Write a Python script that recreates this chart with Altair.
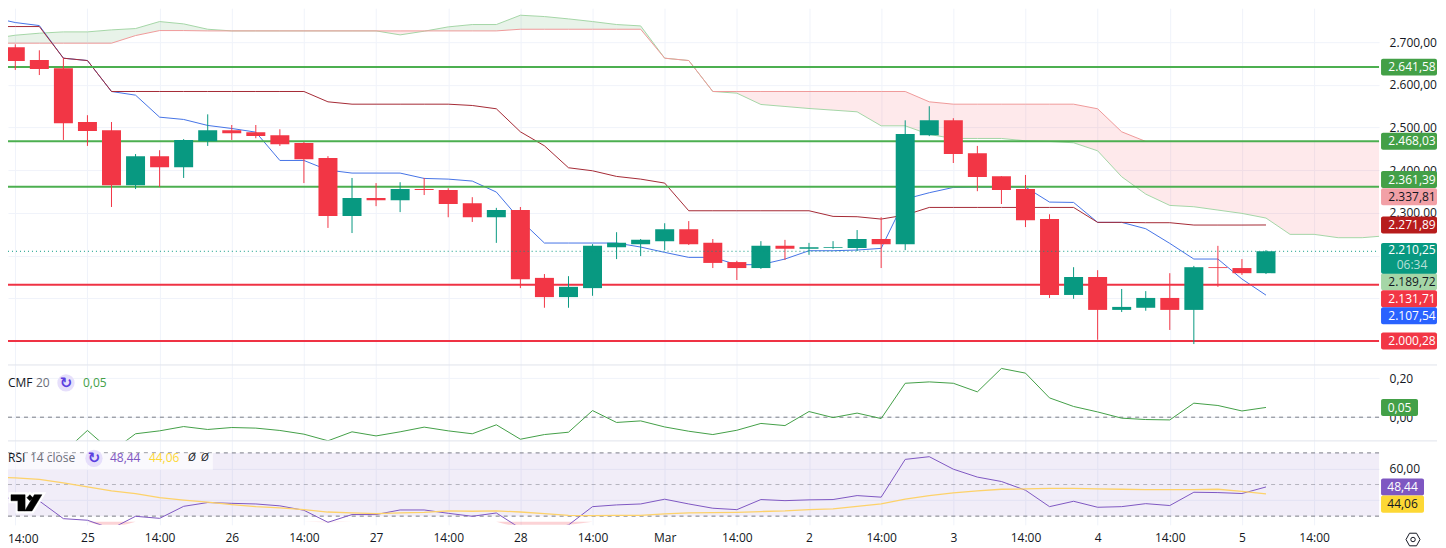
import json
import altair as alt
import pandas as pd

# ---- candles (4h bars)
opens  = [2688,2658,2639,2513,2494,2365,2433,2407,2468,2494,2489,2482,2464,2429,2293,2335,2330,2356,2354,2323,
          2290,2307,2148,2103,2124,2220,2227,2234,2262,2230,2185,2171,2223,2216,2218,2218,2239,2227,2482,2517,
          2440,2386,2356,2286,2108,2150,2073,2078,2101,2073,2173,2171,2159]
closes = [2656,2637,2510,2492,2365,2433,2407,2471,2494,2487,2480,2461,2426,2293,2335,2330,2356,2354,2321,2290,
          2307,2145,2103,2127,2223,2230,2237,2262,2227,2183,2171,2223,2216,2220,2220,2239,2227,2485,2517,2438,
          2384,2354,2283,2108,2150,2073,2080,2101,2073,2173,2171,2159,2210.25]
highs  = [2695,2681,2663,2529,2513,2438,2447,2473,2531,2506,2506,2496,2466,2433,2382,2370,2372,2382,2358,2337,
          2312,2314,2157,2152,2227,2255,2239,2276,2281,2239,2188,2234,2237,2230,2234,2260,2290,2517,2550,2522,
          2457,2386,2389,2297,2173,2166,2122,2117,2159,2176,2223,2192,2213]
lows   = [2635,2623,2471,2457,2314,2356,2361,2382,2457,2471,2475,2457,2370,2265,2253,2316,2302,2342,2290,2279,
          2230,2124,2078,2078,2106,2192,2199,2213,2225,2171,2143,2169,2190,2202,2216,2211,2171,2213,2480,2417,
          2351,2321,2267,2101,2099,2003,2068,2071,2026,1993,2127,2155,2157]

# ---- indicator lines, index -1 to 52
tenkan = [2758.4,2746,2738.9,2662.5,2657,2584.5,2575.9,2524.4,2519,2505,2497.9,2489.3,2423,2423,2400.4,2393.4,2393.4,2393.4,
          2380.9,2379.3,2374.7,2349,2283.4,2229.6,2229.6,2229.6,2229.6,2220.2,2207.7,2196,2196,2178.9,2178.9,2192.1,2211.6,
          2211.6,2213.2,2217.1,2332.5,2347.4,2359.8,2360.6,2360.6,2360.6,2325.5,2324.7,2278,2278,2263.1,2228.8,2192.1,2192.1,
          2145.3,2107.54]
kijun = [2736.6,2736.6,2736.6,2662.5,2657,2584.5,2584.5,2584.5,2584.5,2584.5,2584.5,2584.5,2584.5,2584.5,2560.3,2554.8,2554.8,
         2554.8,2554.8,2554.8,2551.7,2544,2490.1,2457.3,2405.9,2398.8,2385.6,2379.3,2370,2305.2,2305.2,2305.2,2305.2,2305.2,
         2305.2,2292,2291.2,2285.7,2295.1,2313,2313,2313,2313,2313,2313,2313,2278,2278,2277.2,2277.2,2271.7,2271.7,2271.7,2271.89]

# ---- cloud spans, index -1 to 57
span_a = [2707.7,2716.3,2721,2724.1,2724.1,2728.8,2731.9,2748.3,2742.8,2730.3,2726.4,2726.4,2726.4,2726.4,2726.4,2726.4,2726.4,
          2717.1,2725.7,2735.8,2741.3,2741.3,2763.1,2760,2754.5,2748.3,2741.3,2738.1,2662.5,2657,2584.5,2580.6,2554.1,2549.4,
          2544.7,2540.8,2536.9,2504.1,2504.1,2483.9,2474.5,2474.5,2474.5,2469,2467.5,2464.4,2445.6,2384.8,2344.2,2317.7,2314.6,
          2306.8,2299,2288.1,2249.9,2249.9,2242.1,2242.1,2246.7]
span_b = [2697.6,2697.6,2697.6,2697.6,2697.6,2697.6,2715.5,2727.2,2727.2,2726.4,2726.4,2726.4,2726.4,2726.4,2726.4,2726.4,2726.4,
          2726.4,2726.4,2726.4,2726.4,2726.4,2730.3,2730.3,2730.3,2730.3,2730.3,2730.3,2662.5,2657,2584.5,2584.5,2584.5,2584.5,
          2584.5,2584.5,2584.5,2584.5,2584.5,2560.3,2554.8,2554.8,2554.8,2554.8,2554.8,2554.8,2544,2490.1,2467.5,2467.5,2467.5,
          2467.5,2467.5,2467.5,2467.5,2467.5,2467.5,2467.5,2467.5]

# ---- oscillators, index 0 to 52 (CMF) and -1 to 52 (RSI, MA)
cmf = [-0.185,-0.202,-0.181,-0.068,-0.176,-0.085,-0.070,-0.048,-0.063,-0.053,-0.056,-0.068,-0.087,-0.121,-0.075,-0.096,-0.075,
       -0.051,-0.070,-0.085,-0.039,-0.113,-0.089,-0.077,0.034,-0.027,-0.019,-0.050,-0.072,-0.089,-0.067,-0.032,-0.043,0.029,
       -0.002,0.021,-0.007,0.174,0.181,0.174,0.130,0.250,0.226,0.099,0.055,0.027,-0.005,-0.012,-0.014,0.072,0.060,0.032,0.05]
rsi = [42.6,40.9,39.6,28.4,27.4,22.1,29.9,28.6,36.2,38.6,38.1,37.7,36.5,33.7,26.1,31,31,33.9,33.9,31.8,29.9,32,22.3,21,24.4,36,
       37.1,37.7,40.7,37.7,35,34.1,40.5,39.8,40.3,40.5,43,42,65.9,67.6,59.7,54.7,51.9,46.4,36,39.4,35.6,36,37.9,36.7,45.1,44.9,
       44.3,48.44]
rsi_ma = [54.9,54.2,53.2,51.1,48.5,46,44.3,41.7,40.1,38.8,37.3,36,35.2,34.1,32.6,32,31.6,32,32.4,33.3,33.1,33.3,32.6,31.6,30.5,
          30.3,30.5,30.5,31.4,32,32.2,32.4,32.9,33.3,34.1,34.6,36.2,37.7,40.7,43,44.7,46,47,47.2,47.5,47.5,47.2,47,46.8,46.8,
          46.8,47,45.6,44.06]

green_levels = [2641.58, 2468.03, 2361.39]
red_levels = [2131.71, 2000.28]
last_price = 2210.25
price_ticks = [2000, 2100, 2200, 2300, 2400, 2500, 2600, 2700]
time_labels = ["14:00","25","14:00","26","14:00","27","14:00","28","14:00","Mar","14:00","2","14:00","3","14:00","4","14:00","5","14:00"]

# ---- price tags: label, value, background, text colour
tags = [("2.641,58",2641.58,"#43a047","#ffffff"),("2.468,03",2468.03,"#43a047","#ffffff"),
        ("2.361,39",2361.39,"#43a047","#ffffff"),("2.337,81",2337.81,"#f2a0a6","#131722"),
        ("2.271,89",2271.89,"#b71c1c","#ffffff"),("2.189,72",2189.72,"#a5d6a7","#131722"),
        ("2.131,71",2131.71,"#f23645","#ffffff"),("2.107,54",2107.54,"#2962ff","#ffffff"),
        ("2.000,28",2000.28,"#f23645","#ffffff")]
# how far each tag is pushed off its level so the tags do not collide (layout, px)
tag_shift = [0,0,-7.2,0,0,21.7,13.9,20.7,0]

# ---- layout
FONT = "Open Sans"
W = 1372
H_PRICE, H_CMF, H_RSI = 357, 76, 84
PX = 0.4273            # px per price unit
RSI_PX = 1.575
CMF_PX = 195
TAG_H = 17
TAG_R = 1430           # the page has room for 1430 px of chart
GRID = "#f0f3fa"
TXT = "#131722"
UP, DOWN = "#089981", "#f23645"
one = pd.DataFrame({"a": [0]})

x_scale = alt.Scale(domain=[-0.303, 56.7], nice=False, zero=False, padding=0)
ticks = list(range(0, 55, 3))
x_grid = alt.X("i:Q", scale=x_scale, title=None,
               axis=alt.Axis(values=ticks, labels=False, ticks=False, domain=False, grid=True, gridColor=GRID, title=None))
# the first label would run off the left edge of the page, so it is drawn as its own flush text below
x_time = alt.X("i:Q", scale=x_scale, title=None,
               axis=alt.Axis(values=ticks, ticks=False, domain=False, grid=True, gridColor=GRID, title=None,
                             labelExpr="datum.value==0 ? '' : " + json.dumps(time_labels) + "[datum.value/3]",
                             labelFont=FONT, labelFontSize=12,
                             labelColor=TXT, labelPadding=8, labelOverlap=False, labelFlush=False))

DEC = "replace(replace(replace(format(datum.value,',.2f'),',','_'),'.',','),'_','.')"
def y_enc(field, domain, values, hidden=()):
    expr = DEC
    if hidden:
        expr = "||".join(f"datum.value=={h}" for h in hidden) + " ? '' : " + DEC
    return alt.Y(f"{field}:Q", scale=alt.Scale(domain=domain, nice=False, zero=False), title=None,
                 axis=alt.Axis(orient="right", values=values, grid=True, gridColor=GRID, ticks=False, domain=False, title=None,
                               labelExpr=expr, labelFont=FONT, labelFontSize=12, labelColor=TXT, labelPadding=10, labelOverlap=False))

P_DOM = [1944.1, 2779.6]
C_DOM = [-0.1215, 0.268]
R_DOM = [24.5, 77.6]
py = lambda f: y_enc(f, P_DOM, price_ticks, hidden=(2000, 2100, 2200))
cy = lambda f: y_enc(f, C_DOM, [0, 0.2])
ry = lambda f: y_enc(f, R_DOM, [40, 60], hidden=(40,))
py2 = lambda f: alt.Y2(f"{f}:Q")


def series(vals, start=-1):
    return pd.DataFrame({"i": list(range(start, start + len(vals))), "v": vals})


def txt(s, x, y, color=TXT, size=12, align="left", font=FONT, weight="normal", style="normal"):
    return alt.Chart(one).mark_text(text=s, align=align, baseline="middle", color=color, fontSize=size, font=font,
                                    fontWeight=weight, fontStyle=style, clip=False).encode(x=alt.value(x), y=alt.value(y))


def icon(x, y):
    return [alt.Chart(one).mark_circle(size=300, color="#e6dffb", opacity=1, clip=False).encode(x=alt.value(x), y=alt.value(y)),
            txt("\u21bb", x, y, color="#5b3fe0", size=15, align="center", font="DejaVu Sans", weight="bold")]


def hline(v, ychan, color, width=1, dash=None, opacity=1):
    kw = {"strokeDash": dash} if dash else {}
    return alt.Chart(pd.DataFrame({"v": [v]})).mark_rule(color=color, strokeWidth=width, opacity=opacity, **kw).encode(
        x=alt.value(0), x2=alt.value(W), y=ychan("v"))


# ---- price pane
cloud = pd.DataFrame({"i": list(range(-1, 58)), "a": span_a, "b": span_b})
cloud["top"] = cloud[["a", "b"]].max(axis=1)
candles = pd.DataFrame({"i": list(range(len(opens))), "o": opens, "c": closes, "h": highs, "l": lows})
candles["hi"] = candles[["o", "c"]].max(axis=1)
candles["lo"] = candles[["o", "c"]].min(axis=1)
candles["col"] = [UP if c >= o else DOWN for o, c in zip(opens, closes)]

tag_df = pd.DataFrame(tags, columns=["t", "v", "bg", "fg"])
tag_df["c"] = tag_df["v"] - pd.Series(tag_shift) / PX
tag_df["t1"] = tag_df["c"] + TAG_H / 2 / PX
tag_df["t2"] = tag_df["c"] - TAG_H / 2 / PX
live = pd.DataFrame({"t1": [last_price + 8.3 / PX], "t2": [last_price - 22.4 / PX]})
live_txt = pd.DataFrame({"t": ["2.210,25", "06:34"], "v": [last_price + 0.8 / PX, last_price - 13.4 / PX],
                         "fg": ["#ffffff", "#b8e0d8"]})

x0 = lambda: x_grid
price_layers = [
    alt.Chart(cloud).mark_area(color="#43a047", opacity=0.12, clip=True, interpolate="linear").encode(x=x0(), y=py("top"), y2=py2("b")),
    alt.Chart(cloud).mark_area(color="#f23645", opacity=0.11, clip=True, interpolate="linear").encode(x=x0(), y=py("top"), y2=py2("a")),
    alt.Chart(series(span_a)).mark_line(color="#a5d6a7", strokeWidth=1, clip=True).encode(x=x0(), y=py("v")),
    alt.Chart(series(span_b)).mark_line(color="#ef9a9a", strokeWidth=1, clip=True).encode(x=x0(), y=py("v")),
    alt.Chart(series(tenkan)).mark_line(color="#4573e6", strokeWidth=1, clip=True).encode(x=x0(), y=py("v")),
    alt.Chart(series(kijun)).mark_line(color="#a52a35", strokeWidth=1, clip=True).encode(x=x0(), y=py("v")),
]
price_layers += [hline(v, py, "#4caf50", 2) for v in green_levels]
price_layers += [hline(v, py, "#ef3344", 2) for v in red_levels]
price_layers += [
    alt.Chart(candles).mark_rule(strokeWidth=1, clip=True).encode(x=x0(), y=py("h"), y2=py2("l"), color=alt.Color("col:N", scale=None)),
    alt.Chart(candles).mark_bar(size=19, clip=True).encode(x=x0(), y=py("hi"), y2=py2("lo"), color=alt.Color("col:N", scale=None)),
    hline(last_price, py, UP, 1, [1, 3]),
    alt.Chart(tag_df).mark_rect(cornerRadius=2, clip=False).encode(
        x=alt.value(1374), x2=alt.value(TAG_R), y=py("t1"), y2=py2("t2"), color=alt.Color("bg:N", scale=None)),
    alt.Chart(live).mark_rect(cornerRadius=2, clip=False, color=UP).encode(
        x=alt.value(1374), x2=alt.value(TAG_R), y=py("t1"), y2=py2("t2")),
    alt.Chart(tag_df).mark_text(font=FONT, fontSize=12, clip=False).encode(
        x=alt.value(1405), y=py("c"), text="t:N", color=alt.Color("fg:N", scale=None)),
    alt.Chart(live_txt).mark_text(font=FONT, fontSize=12, clip=False).encode(
        x=alt.value(1405), y=py("v"), text="t:N", color=alt.Color("fg:N", scale=None)),
]
price = alt.layer(*price_layers).properties(width=W, height=H_PRICE)

# ---- CMF pane
cmf_layers = [
    alt.Chart(one).mark_rule(color="#e0e3eb", clip=False).encode(x=alt.value(0), x2=alt.value(TAG_R), y=alt.value(0)),
    hline(0, cy, "#787b86", 1, [4, 4]),
    alt.Chart(series(cmf, 0)).mark_line(color="#43a047", strokeWidth=1, clip=True).encode(x=x0(), y=cy("v")),
    txt("CMF", 0, 18), txt("20", 28, 18, color="#6a6d78"),
]
cmf_layers += icon(58, 18)
cmf_layers += [
    txt("0,05", 75, 18, color="#43a047"),
    alt.Chart(pd.DataFrame({"t1": [0.05 + 8.5 / CMF_PX], "t2": [0.05 - 8.5 / CMF_PX]})).mark_rect(color="#43a047", cornerRadius=2, clip=False).encode(
        x=alt.value(1374), x2=alt.value(1411), y=cy("t1"), y2=py2("t2")),
    txt("0,05", 1392.5, 43, color="#ffffff", align="center"),
]
cmf_chart = alt.layer(*cmf_layers).properties(width=W, height=H_CMF)

# ---- RSI pane
LOGO = ("M-0.5 -0.27L-0.03 -0.27L-0.03 0.27L-0.27 0.27L-0.27 -0.07L-0.5 -0.07Z "
        "M0.13 -0.27L0.23 -0.17L0.13 -0.07L0.03 -0.17Z "
        "M0.28 -0.27L0.53 -0.27L0.2 0.27L-0.04 0.27Z")
HEX = "M-0.5 0L-0.25 -0.45L0.25 -0.45L0.5 0L0.25 0.45L-0.25 0.45Z"
rsi_df = series(rsi)
rsi_df["low"] = rsi_df["v"].clip(upper=26.5)
rsi_df["base"] = 26.5
rsi_layers = [
    alt.Chart(pd.DataFrame({"t1": [70], "t2": [30]})).mark_rect(color="#7e57c2", opacity=0.11).encode(
        x=alt.value(0), x2=alt.value(W), y=ry("t1"), y2=py2("t2")),
    alt.Chart(rsi_df).mark_area(color="#f23645", opacity=0.22, clip=True).encode(x=x_time, y=ry("low"), y2=py2("base")),
    hline(70, ry, "#787b86", 1, [4, 4]), hline(50, ry, "#787b86", 1, [4, 4], 0.5), hline(30, ry, "#787b86", 1, [4, 4]),
    alt.Chart(one).mark_rule(color="#e0e3eb", clip=False).encode(x=alt.value(0), x2=alt.value(TAG_R), y=alt.value(0)),
    alt.Chart(series(rsi)).mark_line(color="#7e57c2", strokeWidth=1, clip=True).encode(x=x_time, y=ry("v")),
    alt.Chart(series(rsi_ma)).mark_line(color="#fdd26a", strokeWidth=1.3, clip=True).encode(x=x_time, y=ry("v")),
    alt.Chart(one).mark_rect(color="#ffffff", opacity=0.65, clip=False).encode(
        x=alt.value(0), x2=alt.value(205), y=alt.value(12), y2=alt.value(29)),
    txt("RSI", 0, 17.5), txt("14 close", 22, 17.5, color="#6a6d78"),
    txt(time_labels[0], 0, 98),
]
rsi_layers += icon(86, 17.5)
rsi_layers += [
    txt("48,44", 102, 17.5, color="#7e57c2"), txt("44,06", 141, 17.5, color="#fdd835"),
    txt("\u00d8", 180, 17.5, style="italic", size=11), txt("\u00d8", 193, 17.5, style="italic", size=11),
    alt.Chart(one).mark_point(shape=LOGO, size=3600, filled=True, fill="#ffffff", stroke="#ffffff", strokeWidth=5, opacity=1, clip=False).encode(
        x=alt.value(18), y=alt.value(62)),
    alt.Chart(one).mark_point(shape=LOGO, size=3600, filled=True, fill="#000000", stroke="#000000", strokeWidth=0.5, opacity=1, clip=False).encode(
        x=alt.value(18), y=alt.value(62)),
    alt.Chart(pd.DataFrame({"t1": [48.44 + 8.5 / RSI_PX], "t2": [48.44 - 8.5 / RSI_PX]})).mark_rect(color="#7e57c2", cornerRadius=2, clip=False).encode(
        x=alt.value(1374), x2=alt.value(1417), y=ry("t1"), y2=py2("t2")),
    alt.Chart(pd.DataFrame({"t1": [37.6 + 8.5 / RSI_PX], "t2": [37.6 - 8.5 / RSI_PX]})).mark_rect(color="#fdd835", cornerRadius=2, clip=False).encode(
        x=alt.value(1374), x2=alt.value(1417), y=ry("t1"), y2=py2("t2")),
    txt("48,44", 1395.5, 46.3, color="#ffffff", align="center"),
    txt("44,06", 1395.5, 63, color=TXT, align="center"),
    alt.Chart(one).mark_point(shape=HEX, size=784, filled=False, stroke=TXT, strokeWidth=1, opacity=1, clip=False).encode(
        x=alt.value(1406), y=alt.value(98.7)),
    alt.Chart(one).mark_circle(size=20, color="#ffffff", stroke=TXT, strokeWidth=1, opacity=1, clip=False).encode(
        x=alt.value(1406), y=alt.value(98.7)),
]
rsi_chart = alt.layer(*rsi_layers).properties(width=W, height=H_RSI)

chart = alt.vconcat(price, cmf_chart, rsi_chart, spacing=0, bounds="flush").properties(
    padding={"left": -7, "top": 0, "right": 0, "bottom": 0}, background="#ffffff").configure_view(stroke=None)

chart.save("out.html", embed_options={"renderer": "svg", "actions": False})
